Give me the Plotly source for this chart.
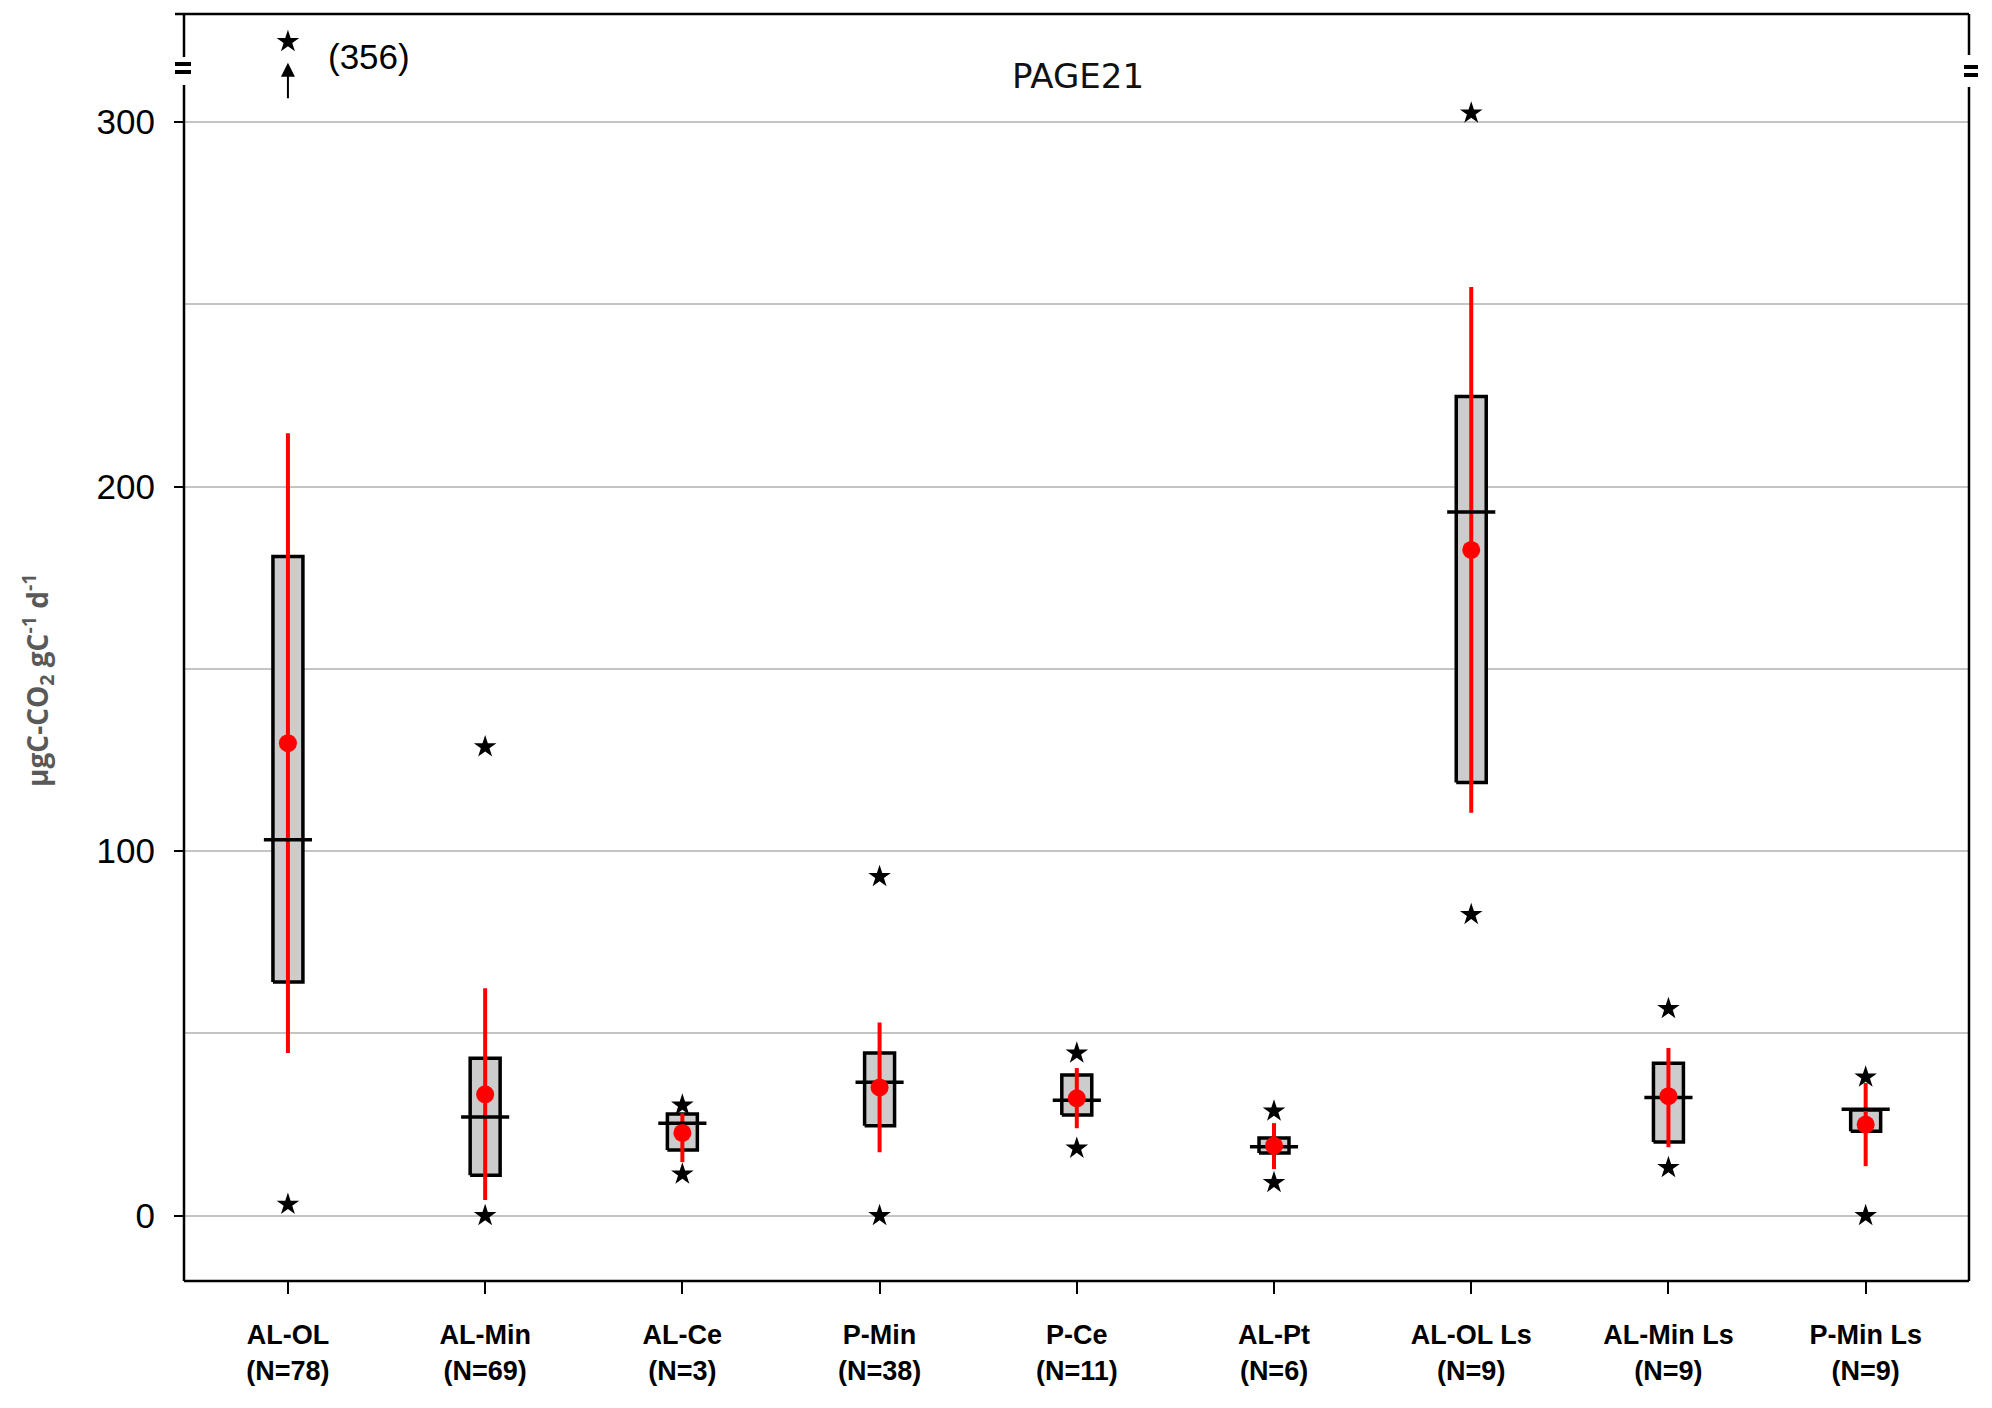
import plotly.graph_objects as go

# ---------------- data ----------------
categories = ["AL-OL", "AL-Min", "AL-Ce", "P-Min", "P-Ce", "AL-Pt", "AL-OL Ls", "AL-Min Ls", "P-Min Ls"]
n_values = [78, 69, 3, 38, 11, 6, 9, 9, 9]
q1 = [64.1, 11.1, 18.0, 24.7, 27.6, 17.2, 118.8, 20.2, 23.2]
q3 = [180.8, 43.2, 27.9, 44.6, 38.6, 21.3, 224.7, 41.8, 29.0]
median = [103.1, 27.1, 25.4, 36.6, 31.7, 18.9, 193.0, 32.4, 29.2]
mean = [129.6, 33.3, 22.7, 35.2, 32.2, 19.2, 182.6, 32.8, 25.0]
sd_low = [44.6, 4.3, 14.7, 17.4, 24.0, 12.8, 110.5, 18.8, 13.6]
sd_high = [214.6, 62.4, 28.1, 53.0, 40.5, 25.4, 254.7, 46.0, 36.4]
extreme_high = [None, 128.6, 30.3, 93.0, 44.6, 28.7, 302.4, 56.8, 38.0]
extreme_low = [3.1, 0.0, 11.4, 0.0, 18.5, 9.1, 82.6, 13.2, 0.0]
outlier_value = 356          # AL-OL maximum, shown above the axis break
outlier_category = 0
y_tick_vals = [0, 100, 200, 300]
title_text = "PAGE21"

# ---------------- layout constants ----------------
OFF = 8                       # default page body margin
W, H = 1992 - 2 * OFF, 1408 - 2 * OFF
PL, PR, PT, PB = 184, 1969, 14, 1281   # plot area in page pixels
ML, MR, MT, MB = PL - OFF, OFF + W - PR, PT - OFF, OFF + H - PB
Y_RANGE = [-17.9, 329.6]
X_RANGE = [-0.527, 8.524]
BOX_HALF = 0.076
MED_HALF = 0.122
BREAK_STAR_Y = 322.0   # display position of the off-scale point above the break

xs = list(range(len(categories)))
ticktext = [f"<b>{c}</b><br><b>(N={n})</b>" for c, n in zip(categories, n_values)]

fig = go.Figure()

# boxes
for i in xs:
    fig.add_trace(go.Scatter(
        x=[i - BOX_HALF, i + BOX_HALF, i + BOX_HALF, i - BOX_HALF, i - BOX_HALF],
        y=[q1[i], q1[i], q3[i], q3[i], q1[i]],
        mode="lines", fill="toself", fillcolor="#cccccc",
        line=dict(color="black", width=3.5), hoverinfo="skip", showlegend=False))

# red whiskers (mean ± sd)
wx, wy = [], []
for i in xs:
    wx += [i, i, None]
    wy += [sd_low[i], sd_high[i], None]
fig.add_trace(go.Scatter(x=wx, y=wy, mode="lines", line=dict(color="#ff0000", width=4),
                         hoverinfo="skip", showlegend=False))

# medians
mx, my = [], []
for i in xs:
    mx += [i - MED_HALF, i + MED_HALF, None]
    my += [median[i], median[i], None]
fig.add_trace(go.Scatter(x=mx, y=my, mode="lines", line=dict(color="black", width=3.5),
                         hoverinfo="skip", showlegend=False))

# means
fig.add_trace(go.Scatter(x=xs, y=mean, mode="markers",
                         marker=dict(color="#ff0000", size=18), showlegend=False))

# extremes
sx, sy = [], []
for i in xs:
    if extreme_high[i] is not None:
        sx.append(i); sy.append(extreme_high[i])
    if extreme_low[i] is not None:
        sx.append(i); sy.append(extreme_low[i])
sx.append(outlier_category); sy.append(BREAK_STAR_Y)
fig.add_trace(go.Scatter(x=sx, y=sy, mode="markers",
                         marker=dict(symbol="star", color="black", size=17, line=dict(width=0)),
                         showlegend=False))

# arrow + label for off-scale point
fig.add_annotation(x=outlier_category, y=316.2, xref="x", yref="y", ax=0, ay=37,
                   text="", showarrow=True, arrowhead=2, arrowsize=1.4, arrowwidth=2,
                   arrowcolor="black")
fig.add_annotation(x=outlier_category + 0.41, y=318.0, xref="x", yref="y",
                   text=f"({outlier_value})", showarrow=False, xanchor="center", yanchor="middle",
                   font=dict(family="Liberation Sans, Arial", size=35, color="black"))

# frame helpers (page pixel -> paper)
pw, ph = PR - PL, PB - PT
def px_x(p): return (p - PL) / pw
def px_y(p): return (PB - p) / ph

# title
fig.add_annotation(x=px_x(1078), y=px_y(76), xref="paper", yref="paper", text=title_text,
                   showarrow=False, xanchor="center", yanchor="middle",
                   font=dict(family="DejaVu Sans", size=34, color="#111111"))

# y-axis title
fig.add_annotation(x=px_x(38), y=px_y(681), xref="paper", yref="paper",
                   text="<b>μgC-CO<sub>2</sub> gC<sup>-1</sup> d<sup>-1</sup></b>",
                   textangle=-90, showarrow=False, xanchor="center", yanchor="middle",
                   font=dict(family="Open Sans, Liberation Sans", size=28, color="#595959"))

# frame with axis breaks
line = dict(color="black", width=2.5)
shapes = [
    dict(type="line", xref="paper", yref="paper", x0=px_x(175), x1=1, y0=1, y1=1, line=line),
    dict(type="line", xref="paper", yref="paper", x0=0, x1=1, y0=0, y1=0, line=line),
    dict(type="line", xref="paper", yref="paper", x0=0, x1=0, y0=0, y1=px_y(85), line=line),
    dict(type="line", xref="paper", yref="paper", x0=0, x1=0, y0=px_y(57), y1=1, line=line),
    dict(type="line", xref="paper", yref="paper", x0=1, x1=1, y0=0, y1=px_y(87), line=line),
    dict(type="line", xref="paper", yref="paper", x0=1, x1=1, y0=px_y(55), y1=1, line=line),
]
for (xa, xb, ya, yb) in [(175, 191, 62, 66), (175, 191, 70, 74),
                         (1964, 1978, 65, 69), (1964, 1978, 73, 77)]:
    shapes.append(dict(type="rect", xref="paper", yref="paper",
                       x0=px_x(xa), x1=px_x(xb), y0=px_y(yb), y1=px_y(ya),
                       fillcolor="black", line=dict(width=0)))

fig.update_layout(
    width=W, height=H,
    margin=dict(l=ML, r=MR, t=MT, b=MB, pad=0, autoexpand=False),
    paper_bgcolor="white", plot_bgcolor="white",
    shapes=shapes,
    xaxis=dict(range=X_RANGE, tickmode="array", tickvals=xs, ticktext=ticktext,
               automargin=False,
               showgrid=False, zeroline=False, showline=False,
               ticks="outside", ticklen=12, tickwidth=2, tickcolor="black",
               tickfont=dict(family="Liberation Sans, Arial", size=27, color="black"),
               ticklabelstandoff=18),
    yaxis=dict(range=Y_RANGE, tickmode="array", tickvals=y_tick_vals,
               automargin=False,
               showgrid=True, gridcolor="#c4c4c4", gridwidth=2,
               zeroline=False, showline=False,
               ticks="outside", ticklen=9, tickwidth=2, tickcolor="black",
               tickfont=dict(family="Liberation Sans, Arial", size=35, color="black"),
               ticklabelstandoff=12,
               minor=dict(dtick=50, tick0=0, showgrid=True, gridcolor="#c4c4c4", gridwidth=2,
                          ticks="")),
)

fig.write_html("out.html")
